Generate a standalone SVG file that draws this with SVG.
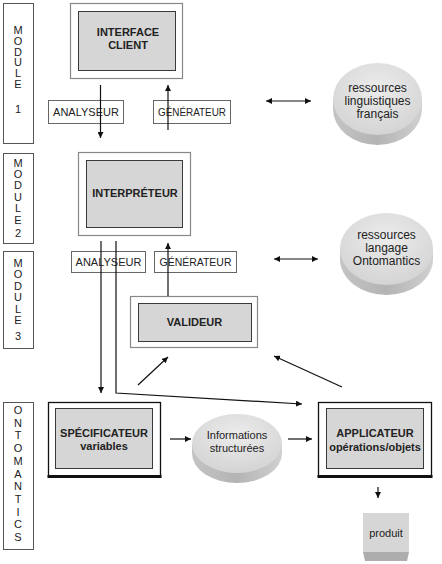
<svg xmlns="http://www.w3.org/2000/svg" width="442" height="564" viewBox="0 0 442 564">
<defs>
  <marker id="ah" viewBox="0 0 6 6" refX="6" refY="3" markerWidth="6" markerHeight="6" markerUnits="userSpaceOnUse" orient="auto-start-reverse">
    <path d="M0,0 L6,3 L0,6 z" fill="#111"/>
  </marker>
  <radialGradient id="topg" cx="0.5" cy="0.35" r="0.7">
    <stop offset="0" stop-color="#ececec"/>
    <stop offset="1" stop-color="#d2d2d2"/>
  </radialGradient>
  <linearGradient id="sideg" x1="0" y1="0" x2="1" y2="0">
    <stop offset="0" stop-color="#c4c4c4"/>
    <stop offset="0.5" stop-color="#b4b4b4"/>
    <stop offset="1" stop-color="#d0d0d0"/>
  </linearGradient>
  <style>
    .mod{fill:#fff;stroke:#555;stroke-width:1}
    .ml{font-family:"Liberation Sans",Arial,sans-serif;font-size:11px;fill:#222;text-anchor:middle}
    .outer{fill:#fff;stroke:#888;stroke-width:1.2}
    .outerk{fill:#fff;stroke:#111;stroke-width:1.3}
    .inner{fill:#d6d6d6;stroke:#3a3a3a;stroke-width:1}
    .lab{fill:#fff;stroke:#666;stroke-width:1}
    .bt{font-family:"Liberation Sans",Arial,sans-serif;font-size:11px;font-weight:bold;fill:#222;text-anchor:middle}
    .t{font-family:"Liberation Sans",Arial,sans-serif;font-size:11px;fill:#222;text-anchor:middle}
    .dt{font-family:"Liberation Sans",Arial,sans-serif;font-size:12px;fill:#222;text-anchor:middle}
    .side{fill:url(#sideg)}
    .top{fill:url(#topg)}
    .c{fill:none;stroke:#111;stroke-width:1.2;marker-end:url(#ah)}
    .cd{fill:none;stroke:#111;stroke-width:1.2;marker-end:url(#ah);marker-start:url(#ah)}
  </style>
</defs>

<g id="module1">
  <rect class="mod" x="3.5" y="3.5" width="30" height="140"/>
  <text class="ml" x="18" y="34">M</text>
  <text class="ml" x="18" y="44.8">O</text>
  <text class="ml" x="18" y="55.6">D</text>
  <text class="ml" x="18" y="66.4">U</text>
  <text class="ml" x="18" y="77.2">L</text>
  <text class="ml" x="18" y="88">E</text>
  <text class="ml" x="18" y="112.5">1</text>
</g>
<g id="module2">
  <rect class="mod" x="3.5" y="153.5" width="30" height="90"/>
  <text class="ml" x="18" y="166.5">M</text>
  <text class="ml" x="18" y="177.9">O</text>
  <text class="ml" x="18" y="189.3">D</text>
  <text class="ml" x="18" y="200.7">U</text>
  <text class="ml" x="18" y="212.1">L</text>
  <text class="ml" x="18" y="223.5">E</text>
  <text class="ml" x="18" y="237">2</text>
</g>
<g id="module3">
  <rect class="mod" x="3.5" y="251.5" width="30" height="97"/>
  <text class="ml" x="18" y="267">M</text>
  <text class="ml" x="18" y="278.4">O</text>
  <text class="ml" x="18" y="289.8">D</text>
  <text class="ml" x="18" y="301.2">U</text>
  <text class="ml" x="18" y="312.6">L</text>
  <text class="ml" x="18" y="324">E</text>
  <text class="ml" x="18" y="340">3</text>
</g>
<g id="ontomantics">
  <rect class="mod" x="3.5" y="402.5" width="30" height="147"/>
  <text class="ml" x="18" y="414">O</text>
  <text class="ml" x="18" y="426.7">N</text>
  <text class="ml" x="18" y="439.4">T</text>
  <text class="ml" x="18" y="452.1">O</text>
  <text class="ml" x="18" y="464.8">M</text>
  <text class="ml" x="18" y="477.5">A</text>
  <text class="ml" x="18" y="490.2">N</text>
  <text class="ml" x="18" y="502.9">T</text>
  <text class="ml" x="18" y="515.6">I</text>
  <text class="ml" x="18" y="528.3">C</text>
  <text class="ml" x="18" y="541">S</text>
</g>

<g id="interface-client">
  <rect class="outer" x="70.5" y="3.5" width="112" height="75"/>
  <rect class="inner" x="78.5" y="11.5" width="97" height="59"/>
  <text class="bt" x="128" y="36">INTERFACE</text>
  <text class="bt" x="128" y="49">CLIENT</text>
</g>
<g id="analyseur1">
  <rect class="lab" x="48.5" y="100.5" width="75" height="23"/>
  <text class="t" x="86" y="116">ANALYSEUR</text>
</g>
<g id="generateur1">
  <rect class="lab" x="153.5" y="100.5" width="77" height="23"/>
  <text class="t" x="192" y="116" textLength="68" lengthAdjust="spacingAndGlyphs">GÉNÉRATEUR</text>
</g>
<g id="ressources-fr">
  <path class="side" d="M333,99 L333,109 A44.5,36 0 0 0 422,109 L422,99 Z"/>
  <ellipse class="top" cx="377.5" cy="99" rx="44.5" ry="36"/>
  <text class="dt" x="377.5" y="92">ressources</text>
  <text class="dt" x="377.5" y="105">linguistiques</text>
  <text class="dt" x="377.5" y="118">français</text>
</g>

<g id="interpreteur">
  <rect class="outer" x="78.5" y="152.5" width="112" height="83"/>
  <rect class="inner" x="86.5" y="160.5" width="96" height="67"/>
  <text class="bt" x="135" y="197">INTERPRÉTEUR</text>
</g>
<g id="analyseur2">
  <rect class="lab" x="71.5" y="251.5" width="74" height="21"/>
  <text class="t" x="108.5" y="266">ANALYSEUR</text>
</g>
<g id="generateur2">
  <rect class="lab" x="154.5" y="251.5" width="82" height="21"/>
  <text class="t" x="195.5" y="266" textLength="72" lengthAdjust="spacingAndGlyphs">GÉNÉRATEUR</text>
</g>
<g id="ressources-onto">
  <path class="side" d="M340,249 L340,259 A46.5,36 0 0 0 433,259 L433,249 Z"/>
  <ellipse class="top" cx="386.5" cy="249" rx="46.5" ry="36"/>
  <text class="dt" x="386.5" y="239">ressources</text>
  <text class="dt" x="386.5" y="252">langage</text>
  <text class="dt" x="386.5" y="265">Ontomantics</text>
</g>

<g id="valideur">
  <rect class="outer" x="130.5" y="296.5" width="127" height="51"/>
  <rect class="inner" x="138.5" y="303.5" width="113" height="38"/>
  <text class="bt" x="194.5" y="326">VALIDEUR</text>
</g>

<g id="specificateur">
  <rect class="outerk" x="48.5" y="402.5" width="112" height="74"/>
  <line x1="47.5" y1="476.5" x2="161.5" y2="476.5" stroke="#111" stroke-width="3"/>
  <rect class="inner" x="55.5" y="408.5" width="97" height="60"/>
  <text class="bt" x="104" y="437">SPÉCIFICATEUR</text>
  <text class="bt" x="104" y="450">variables</text>
</g>
<g id="informations">
  <path class="side" d="M192,443.5 L192,453.5 A45,29.5 0 0 0 282,453.5 L282,443.5 Z"/>
  <ellipse class="top" cx="237" cy="443.5" rx="45" ry="29.5"/>
  <text class="t" x="237" y="439">Informations</text>
  <text class="t" x="237" y="452">structurées</text>
</g>
<g id="applicateur">
  <rect class="outerk" x="318.5" y="402.5" width="113" height="74"/>
  <line x1="317.5" y1="476.5" x2="432.5" y2="476.5" stroke="#111" stroke-width="3"/>
  <rect class="inner" x="326.5" y="408.5" width="97" height="60"/>
  <text class="bt" x="375" y="437">APPLICATEUR</text>
  <text class="bt" x="375" y="451">opérations/objets</text>
</g>
<g id="produit">
  <rect x="363" y="513" width="46" height="39" fill="#d6d6d6"/>
  <path d="M363,552 L409,552 L407,561 L365,561 Z" fill="#adadad"/>
  <text class="t" x="386" y="537">produit</text>
</g>

<g id="connectors">
  <line class="c" x1="100.5" y1="85" x2="100.5" y2="138"/>
  <line class="c" x1="168" y1="130" x2="168" y2="85"/>
  <line class="cd" x1="266" y1="101" x2="311" y2="101"/>
  <line class="c" x1="101" y1="241" x2="101" y2="393"/>
  <polyline class="c" points="116,241 116,393 302,404"/>
  <line class="c" x1="168" y1="296" x2="168" y2="243"/>
  <line class="cd" x1="274" y1="259" x2="318" y2="259"/>
  <line class="c" x1="138" y1="385" x2="168" y2="357"/>
  <line class="c" x1="342" y1="387" x2="274" y2="356"/>
  <line class="c" x1="170" y1="439" x2="191" y2="439"/>
  <line class="c" x1="288" y1="439" x2="312" y2="439"/>
  <line class="c" x1="378" y1="487" x2="378" y2="498"/>
</g>
</svg>
